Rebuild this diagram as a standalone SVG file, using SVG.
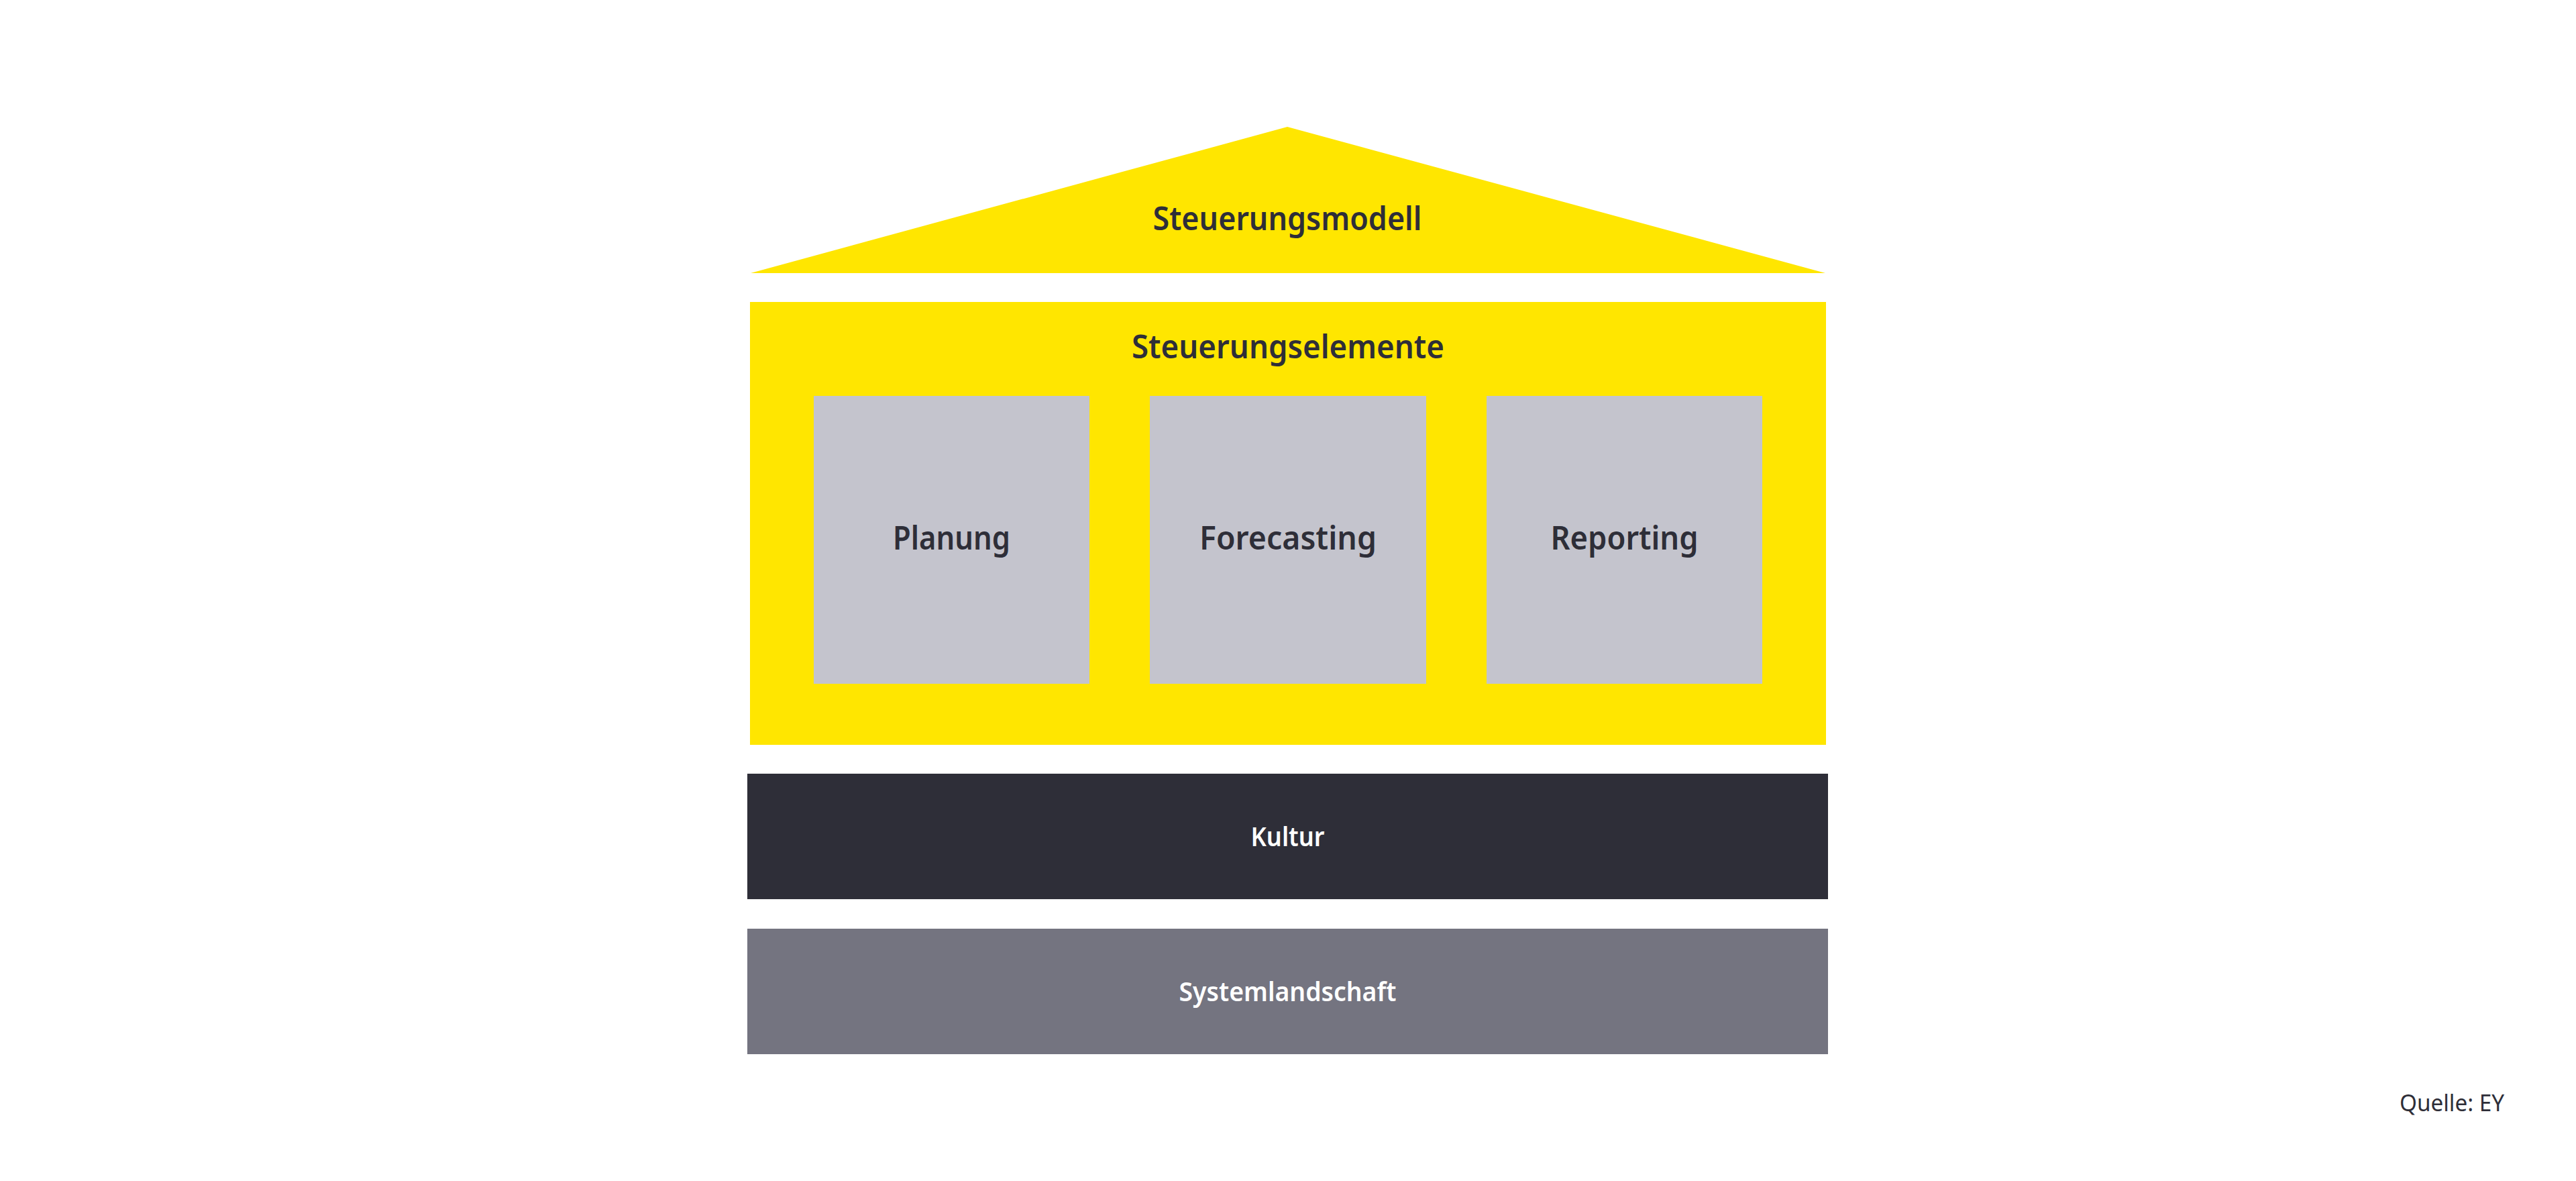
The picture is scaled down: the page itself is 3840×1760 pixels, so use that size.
<svg xmlns="http://www.w3.org/2000/svg" width="3840" height="1760" viewBox="0 0 3840 1760">
  <style>
    .yellow { fill: #FFE600; }
    .pillar { fill: #C4C4CD; }
    .culture { fill: #2E2E38; }
    .system { fill: #747480; }
    .t { font-family: "Noto Sans", "Open Sans", "DejaVu Sans", sans-serif; text-anchor: middle; }
    .dark { fill: #2E2E38; font-weight: 600; font-size: 48px; }
    .light { fill: #FFFFFF; font-weight: 600; font-size: 40px; }
    .src { font-family: "Noto Sans", "Open Sans", "DejaVu Sans", sans-serif; fill: #2E2E38; font-size: 34px; text-anchor: end; }
  </style>
  <rect x="0" y="0" width="3840" height="1760" fill="#FFFFFF"/>

  <g id="steuerungsmodell">
    <polygon class="yellow" points="1919,189 2721,407 1119,407"/>
    <text class="t dark" x="1919" y="343" textLength="401" lengthAdjust="spacingAndGlyphs">Steuerungsmodell</text>
  </g>

  <g id="steuerungselemente">
    <rect class="yellow" x="1118" y="450" width="1604" height="660"/>
    <text class="t dark" x="1920" y="534" textLength="466" lengthAdjust="spacingAndGlyphs">Steuerungselemente</text>
  </g>

  <g id="planung">
    <rect class="pillar" x="1213" y="590" width="411" height="429"/>
    <text class="t dark" x="1418.5" y="819" textLength="175" lengthAdjust="spacingAndGlyphs">Planung</text>
  </g>

  <g id="forecasting">
    <rect class="pillar" x="1714" y="590" width="412" height="429"/>
    <text class="t dark" x="1920" y="819" textLength="264" lengthAdjust="spacingAndGlyphs">Forecasting</text>
  </g>

  <g id="reporting">
    <rect class="pillar" x="2216" y="590" width="411" height="429"/>
    <text class="t dark" x="2421.5" y="819" textLength="220" lengthAdjust="spacingAndGlyphs">Reporting</text>
  </g>

  <g id="kultur">
    <rect class="culture" x="1114" y="1153" width="1611" height="187"/>
    <text class="t light" x="1919.5" y="1261" textLength="110" lengthAdjust="spacingAndGlyphs">Kultur</text>
  </g>

  <g id="systemlandschaft">
    <rect class="system" x="1114" y="1384" width="1611" height="187"/>
    <text class="t light" x="1919.5" y="1492" textLength="324" lengthAdjust="spacingAndGlyphs">Systemlandschaft</text>
  </g>

  <g id="connectors"></g>

  <text class="src" x="3733" y="1656" textLength="156" lengthAdjust="spacingAndGlyphs">Quelle: EY</text>
</svg>
